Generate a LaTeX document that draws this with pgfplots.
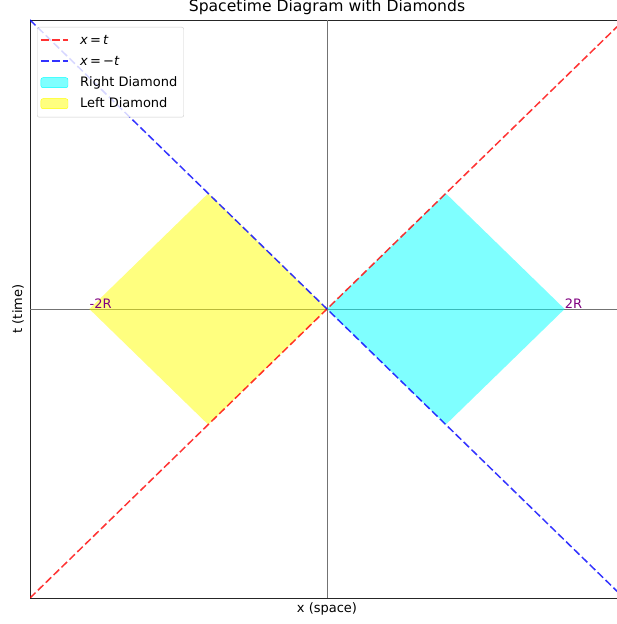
\documentclass[border=0pt]{standalone}
\usepackage{fontspec}
\setmainfont{DejaVu Sans}
\usepackage{pgfplots}
\pgfplotsset{compat=1.18}

\definecolor{lblpurple}{RGB}{128,0,128}
\definecolor{mplcyan}{RGB}{0,255,255}
\definecolor{mplyellow}{RGB}{255,255,0}
\definecolor{mplred}{RGB}{255,0,0}
\definecolor{mplblue}{RGB}{0,0,255}

\begin{document}
\begin{tikzpicture}
\begin{axis}[
  scale only axis,
  width=594pt, height=578pt,
  xmin=-2.5, xmax=2.5, ymin=-2.5, ymax=2.5,
  xtick=\empty, ytick=\empty,
  axis line style={black!85, line width=0.9pt},
  legend style={at={(0,1)}, anchor=north west, xshift=7pt, yshift=-7pt,
    draw=black!20, rounded corners=2pt, fill=white, fill opacity=0.8, text opacity=1,
    font=\fontsize{13}{15}\selectfont, cells={anchor=west},
    nodes={text height=11pt, text depth=3pt, inner sep=3.5pt},
    inner xsep=3pt, inner ysep=3pt, row sep=0pt, column sep=8pt},
  legend image code/.code={\draw[#1] (0pt,0.5pt) -- (27pt,0.5pt);},
]
% zero lines
\addplot[black!55, line width=0.9pt, forget plot] coordinates {(-2.5,0) (2.5,0)};
\addplot[black!55, line width=0.9pt, forget plot] coordinates {(0,-2.5) (0,2.5)};

% diamonds
\addplot[fill=mplcyan, fill opacity=0.5, draw=none, forget plot] coordinates {
  (0,0) (1,1) (2,0) (1,-1) (0,0)
};
\addplot[fill=mplyellow, fill opacity=0.5, draw=none, forget plot] coordinates {
  (0,0) (-1,1) (-2,0) (-1,-1) (0,0)
};

% light cone lines
\addplot[mplred, opacity=0.8, line width=1.5pt, dash pattern=on 7.7pt off 3.3pt] coordinates {
  (-2.5,-2.5) (2.5,2.5)
};
\addlegendentry{\textit{x}\,=\,\textit{t}}
\addplot[mplblue, opacity=0.8, line width=1.5pt, dash pattern=on 7.7pt off 3.3pt] coordinates {
  (-2.5,2.5) (2.5,-2.5)
};
\addlegendentry{\textit{x}\,=\,−\textit{t}}
\addlegendimage{legend image code/.code={\fill[mplcyan, fill opacity=0.5] (0pt,-5pt) rectangle (27pt,5pt);}}
\addlegendentry{Right Diamond}
\addlegendimage{legend image code/.code={\fill[mplyellow, fill opacity=0.5] (0pt,-5pt) rectangle (27pt,5pt);}}
\addlegendentry{Left Diamond}

\node[anchor=base west, inner sep=0pt, text=lblpurple, font=\fontsize{13}{15}\selectfont] at (axis cs:2,0) {2R};
\node[anchor=base west, inner sep=0pt, text=lblpurple, font=\fontsize{13}{15}\selectfont] at (axis cs:-2,0) {-2R};

\coordinate (bl) at (rel axis cs:0,0);
\coordinate (bc) at (rel axis cs:0.5,0);
\coordinate (tc) at (rel axis cs:0.5,1);
\coordinate (lc) at (rel axis cs:0,0.5);
\end{axis}
\node[anchor=base, inner sep=0pt, font=\fontsize{15.6}{18}\selectfont] at ([yshift=8pt]tc) {Spacetime Diagram with Diamonds};
\node[anchor=base, inner sep=0pt, font=\fontsize{13}{15}\selectfont] at ([yshift=-15pt]bc) {x (space)};
\node[anchor=base, inner sep=0pt, rotate=90, font=\fontsize{13}{15}\selectfont] at ([xshift=-8pt]lc) {t (time)};
\pgfresetboundingbox
\path[use as bounding box] ([xshift=-30pt,yshift=-26pt]bl) rectangle ++(616pt,624pt);
\end{tikzpicture}
\end{document}
